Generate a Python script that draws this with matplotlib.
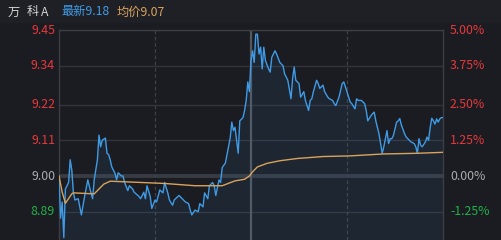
import matplotlib.pyplot as plt
import numpy as np

plt.rcParams['font.family'] = ['Noto Sans CJK SC', 'DejaVu Sans']

# intraday price, minute index (0..240) and price
price_min = [0, 1, 2, 3, 4, 6, 7, 8, 9, 10, 12, 14, 16, 18, 20, 21, 22, 24, 25, 26,
             27, 29, 30, 31, 32, 33, 35, 36, 37, 39, 40, 41, 43, 44, 46, 47, 50, 51, 53, 54,
             55, 57, 58, 60, 61, 63, 65, 66, 68, 69, 71, 72, 75, 77, 79, 81, 82, 83, 85, 87,
             88, 90, 91, 93, 94, 96, 97, 98, 100, 101, 102, 104, 105, 107, 108, 109, 110, 112, 113, 115,
             116, 117, 118, 119, 120, 121, 122, 123, 124, 125, 126, 127, 128, 129, 131, 132, 133, 135, 136, 138,
             140, 141, 143, 145, 146, 147, 148, 150, 151, 153, 154, 156, 157, 158, 159, 161, 162, 163, 164, 165,
             166, 168, 169, 171, 172, 173, 175, 177, 178, 179, 181, 182, 183, 185, 186, 187, 189, 191, 192, 193,
             195, 196, 197, 198, 200, 201, 202, 203, 204, 205, 206, 207, 208, 209, 211, 212, 213, 214, 216, 217,
             219, 220, 222, 223, 224, 225, 226, 227, 229, 230, 231, 232, 233, 234, 235, 236, 237, 238, 239, 240]
price = [9.00, 8.87, 8.92, 8.81, 8.96, 8.98, 9.05, 9.018, 8.948, 8.926, 8.93, 8.88, 8.937, 8.988, 8.948, 8.93, 8.988, 9.05, 9.126, 9.09,
         9.11, 9.117, 9.07, 9.066, 9.05, 9.028, 9.008, 8.988, 9.01, 9.00, 9.00, 8.98, 8.955, 8.97, 8.96, 8.95, 8.937, 8.93, 8.95, 8.93,
         8.97, 8.937, 8.90, 8.926, 8.92, 8.957, 8.948, 8.98, 8.948, 8.926, 8.91, 8.926, 8.94, 8.93, 8.92, 8.915, 8.895, 8.88, 8.895, 8.89,
         8.915, 8.905, 8.948, 8.93, 8.97, 8.98, 8.97, 8.94, 8.988, 8.98, 9.026, 9.04, 9.066, 9.117, 9.166, 9.14, 9.15, 9.07, 9.17, 9.18,
         9.202, 9.233, 9.29, 9.26, 9.356, 9.386, 9.35, 9.437, 9.437, 9.376, 9.397, 9.33, 9.397, 9.356, 9.33, 9.32, 9.366, 9.386, 9.376, 9.35,
         9.34, 9.315, 9.295, 9.238, 9.30, 9.336, 9.295, 9.285, 9.243, 9.26, 9.233, 9.202, 9.233, 9.238, 9.26, 9.295, 9.285, 9.27, 9.275, 9.28,
         9.26, 9.243, 9.238, 9.233, 9.223, 9.217, 9.243, 9.285, 9.29, 9.275, 9.243, 9.228, 9.223, 9.207, 9.238, 9.233, 9.233, 9.223, 9.202, 9.17,
         9.186, 9.192, 9.197, 9.17, 9.13, 9.10, 9.07, 9.09, 9.115, 9.14, 9.10, 9.115, 9.115, 9.125, 9.166, 9.17, 9.177, 9.157, 9.13, 9.12,
         9.11, 9.105, 9.10, 9.09, 9.07, 9.115, 9.095, 9.09, 9.105, 9.12, 9.11, 9.15, 9.178, 9.17, 9.16, 9.176, 9.166, 9.176, 9.18, 9.18]

# average price line
avg_min = [0, 2, 4, 8, 9, 22, 28, 32, 66, 85, 102, 110, 116, 119, 121, 124, 130, 138, 149, 165, 182, 203, 224, 240]
avg = [9.00, 8.95, 8.916, 8.945, 8.948, 8.945, 8.975, 8.984, 8.977, 8.97, 8.97, 8.985, 8.99, 9.00, 9.013, 9.028,
       9.039, 9.047, 9.054, 9.06, 9.062, 9.068, 9.07, 9.073]

prev_close = 9.00
left_ticks = [9.45, 9.34, 9.22, 9.11, 9.00, 8.89]
left_labels = ['9.45', '9.34', '9.22', '9.11', '9.00', '8.89']
right_labels = ['5.00%', '3.75%', '2.50%', '1.25%', '0.00%', '-1.25%']

bg = '#1b1c21'
grid = '#33353b'
red = '#e5383b'
green = '#22b048'
gray = '#a9abaf'

fig = plt.figure(figsize=(5.01, 2.40), dpi=100)
fig.patch.set_facecolor(bg)
# slightly lighter header strip
fig.patches.append(plt.Rectangle((0, 1 - 22 / 240), 1, 22 / 240, transform=fig.transFigure,
                                 color='#1f2025', zorder=0))

ax = fig.add_axes([59 / 501, 0, 384 / 501, 210 / 240])
ax.set_facecolor(bg)
ymax = 9.45
ymin = ymax - 0.45 * 210 / 146
ax.set_ylim(ymin, ymax)
ax.set_xlim(0, 240)

for v in left_ticks:
    if v == prev_close:
        ax.axhline(v, color='#383b41', lw=2.8, zorder=1)
    else:
        ax.axhline(v, color=grid, lw=1, zorder=1)
ax.axvline(60, color='#3e4147', lw=0.9, ls=(0, (3, 2)), zorder=1)
ax.axvline(180, color='#3e4147', lw=0.9, ls=(0, (3, 2)), zorder=1)
ax.axvline(120, color='#55585e', lw=1.6, zorder=1)

ax.fill_between(price_min, price, ymin, color='#3f7fc4', alpha=0.10, lw=0, zorder=2)
ax.plot(price_min, price, color='#3f9be6', lw=1.0, zorder=3)
ax.plot(avg_min, avg, color='#d9a35c', lw=1.0, zorder=3)

for s in ['left', 'right', 'top']:
    ax.spines[s].set_color('#3c3e44')
    ax.spines[s].set_linewidth(1)
ax.spines['bottom'].set_visible(False)
ax.set_xticks([])
ax.set_yticks([])

for v, lab in zip(left_ticks, left_labels):
    c = red if v > prev_close else (gray if v == prev_close else green)
    ax.text(-4 / 384 * 240, v, lab, color=c, fontsize=8.9, ha='right', va='center')
for v, lab in zip(left_ticks, right_labels):
    c = red if v > prev_close else (gray if v == prev_close else green)
    ax.text(240 + 7 / 384 * 240, v, lab, color=c, fontsize=8.9, ha='left', va='center')

ty = 1 - 12 / 240
fig.text(8 / 501, ty, '万', color='#d4d4d4', fontsize=8.8, va='center')
fig.text(27 / 501, ty, '科', color='#d4d4d4', fontsize=8.8, va='center')
fig.text(41 / 501, ty, 'A', color='#d4d4d4', fontsize=8.8, va='center')
fig.text(61 / 501, ty, '最新9.18', color='#3f9be6', fontsize=8.8, va='center')
fig.text(117 / 501, ty, '均价9.07', color='#d9a35c', fontsize=8.8, va='center')

fig.savefig('out.png', dpi=100, facecolor=bg)
